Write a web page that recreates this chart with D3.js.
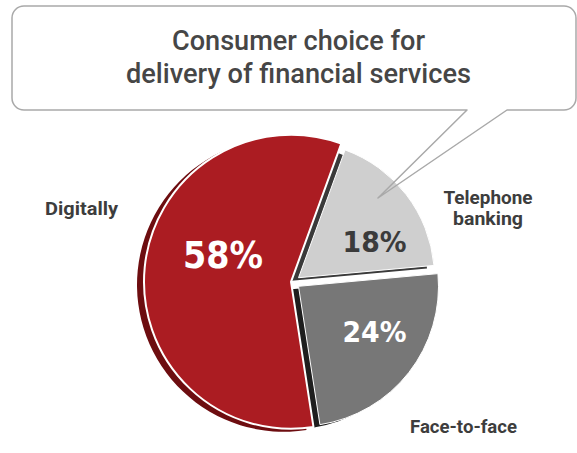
<!DOCTYPE html>
<html>
<head>
<meta charset="utf-8">
<script src="https://cdn.jsdelivr.net/npm/d3@7"></script>
<style>
  html, body { margin: 0; padding: 0; background: #fff; }
  svg { display: block; }
</style>
</head>
<body>
<svg id="chart" width="577" height="453"></svg>
<script>
// Channel shares, clockwise from the telephone slice
const categories = ["Telephone banking", "Face-to-face", "Digitally"];
const shares = [18, 24, 58];
const titleLines = ["Consumer choice for", "delivery of financial services"];

// Look of each slice: face / side colour, radius, how far it is pulled out,
// and where its texts sit
const sliceStyle = {
  "Telephone banking": {
    face: "#cfcfcf", side: "#3a3a3a", r: 136, explode: 7,
    pctColor: "#3b3b3b", pctSize: 28, pctWidth: 64, pctOffset: [76, -26],
    label: ["Telephone", "banking"], labelPos: [488, 204], labelWidths: [89, 70]
  },
  "Face-to-face": {
    face: "#777777", side: "#1e1e1e", r: 140, explode: 7,
    pctColor: "#ffffff", pctSize: 28, pctWidth: 64, pctOffset: [76, 56],
    label: ["Face-to-face"], labelPos: [463.5, 433], labelWidths: [107]
  },
  "Digitally": {
    face: "#ab1c22", side: "#6d0d10", r: 147, explode: 2,
    pctColor: "#ffffff", pctSize: 37, pctWidth: 80, pctOffset: [-68, -14],
    label: ["Digitally"], labelPos: [81.5, 215], labelWidths: [73]
  }
};

const W = 577, H = 453;
const center = [293, 282];
const depth = [-7, 3];           // extrusion direction of the slice sides
const deg = Math.PI / 180;
const textFont = "Roboto, 'Liberation Sans', sans-serif";

const svg = d3.select("#chart");
svg.append("rect").attr("width", W).attr("height", H).attr("fill", "#fff");

const pie = d3.pie().sort(null)
  .startAngle(20 * deg).endAngle(380 * deg)
  .value(d => d.value);

const slices = pie(categories.map((c, i) => ({ key: c, value: shares[i] })));

const arcFor = d => d3.arc().innerRadius(0).outerRadius(sliceStyle[d.data.key].r);

function sliceCenter(d) {
  const s = sliceStyle[d.data.key];
  const mid = (d.startAngle + d.endAngle) / 2;
  return [center[0] + s.explode * Math.sin(mid), center[1] - s.explode * Math.cos(mid)];
}

const pieG = svg.append("g");

// draw the small grey slices first, the large red one last so its white rim
// separates it from the neighbouring sides
slices.forEach(d => {
  const s = sliceStyle[d.data.key];
  const [cx, cy] = sliceCenter(d);
  const g = pieG.append("g").attr("transform", `translate(${cx},${cy})`);
  const path = arcFor(d)(d);
  g.append("path")
    .attr("d", path)
    .attr("transform", `translate(${depth[0]},${depth[1]})`)
    .attr("fill", s.side);
  g.append("path")
    .attr("d", path)
    .attr("fill", s.face)
    .attr("stroke", "#fff")
    .attr("stroke-width", d.data.key === "Digitally" ? 2 : 1)
    .attr("stroke-linejoin", "round");
});

// percentage values
slices.forEach(d => {
  const s = sliceStyle[d.data.key];
  const [cx, cy] = sliceCenter(d);
  pieG.append("text")
    .attr("x", cx + s.pctOffset[0])
    .attr("y", cy + s.pctOffset[1])
    .attr("text-anchor", "middle")
    .attr("font-family", "'DejaVu Sans', sans-serif")
    .attr("font-weight", "bold")
    .attr("font-size", s.pctSize)
    .attr("fill", s.pctColor)
    .attr("textLength", s.pctWidth)
    .attr("lengthAdjust", "spacingAndGlyphs")
    .text(`${d.data.value}%`);
});

// category names
slices.forEach(d => {
  const s = sliceStyle[d.data.key];
  s.label.forEach((line, i) => {
    svg.append("text")
      .attr("x", s.labelPos[0])
      .attr("y", s.labelPos[1] + i * 21)
      .attr("text-anchor", "middle")
      .attr("font-family", textFont)
      .attr("font-weight", "bold")
      .attr("font-size", 19)
      .attr("fill", "#3d3d3d")
      .attr("textLength", s.labelWidths[i])
      .attr("lengthAdjust", "spacingAndGlyphs")
      .text(line);
  });
});

// speech bubble holding the title, its tail pointing into the telephone slice
const bx0 = 12, by0 = 6, bx1 = 576, by1 = 110, br = 12;
const tailA = 467, tailB = 507, tip = [378, 198];
const bubble = d3.path();
bubble.moveTo(bx0 + br, by0);
bubble.lineTo(bx1 - br, by0);
bubble.arcTo(bx1, by0, bx1, by0 + br, br);
bubble.lineTo(bx1, by1 - br);
bubble.arcTo(bx1, by1, bx1 - br, by1, br);
bubble.lineTo(tailB, by1);
bubble.lineTo(tip[0], tip[1]);
bubble.lineTo(tailA, by1);
bubble.lineTo(bx0 + br, by1);
bubble.arcTo(bx0, by1, bx0, by1 - br, br);
bubble.lineTo(bx0, by0 + br);
bubble.arcTo(bx0, by0, bx0 + br, by0, br);
bubble.closePath();

svg.append("path")
  .attr("d", bubble.toString())
  .attr("fill", "none")
  .attr("stroke", "#a9a9a9")
  .attr("stroke-width", 1.5)
  .attr("stroke-linejoin", "round");

const titleWidths = [253, 345];
titleLines.forEach((line, i) => {
  svg.append("text")
    .attr("x", 298.5)
    .attr("y", 50 + i * 33)
    .attr("text-anchor", "middle")
    .attr("font-family", textFont)
    .attr("font-weight", 500)
    .attr("font-size", 28)
    .attr("fill", "#464646")
    .attr("textLength", titleWidths[i])
    .attr("lengthAdjust", "spacingAndGlyphs")
    .text(line);
});
</script>
</body>
</html>
